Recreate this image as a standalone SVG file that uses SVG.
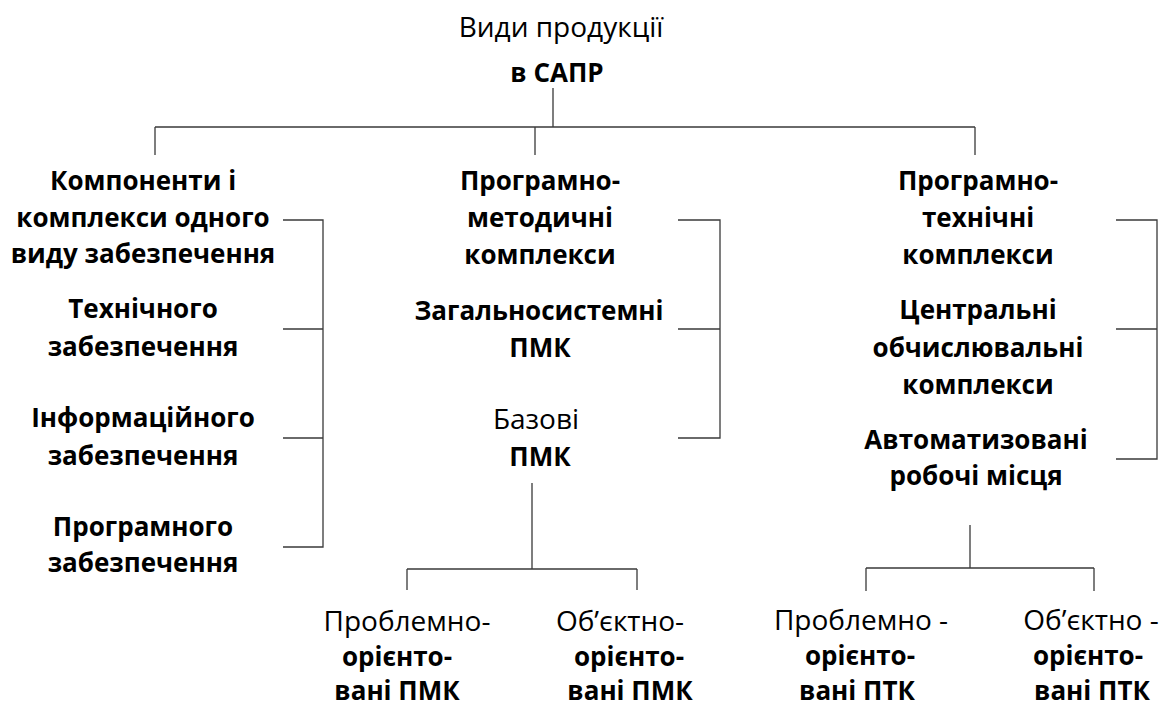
<svg xmlns="http://www.w3.org/2000/svg" width="1164" height="706" viewBox="0 0 1164 706">
  <style>
    text { font-family: "Open Sans", "Noto Sans", "Liberation Sans", sans-serif; fill: #000; text-anchor: middle; }
    .b { font-weight: 700; font-size: 26px; }
    .r { font-weight: 400; font-size: 28px; }
    .ln { fill: none; stroke: #3a3a3a; stroke-width: 1.3; }
  </style>
  <rect width="1164" height="706" fill="#fff"/>

  <g id="connectors" class="ln">
    <path d="M553,88 V127 M155,127 H975 M155,127 V155 M535,127 V155 M975,127 V155"/>
    <path d="M283,220 H323 V547 H283 M283,329 H323 M283,438 H323"/>
    <path d="M678,220 H720 V438 H678 M678,329 H720"/>
    <path d="M1116,220 H1157 V459 H1116 M1116,329 H1157"/>
    <path d="M532,483 V569 M407,569 H637 M407,569 V590 M637,569 V590"/>
    <path d="M970,525 V568 M866,568 H1094 M866,568 V591 M1094,568 V591"/>
  </g>

  <g id="root">
    <text class="r" x="561" y="37">Види продукції</text>
    <text class="b" x="557" y="82">в САПР</text>
  </g>

  <g id="single-kind">
    <text class="b" x="143" y="190">Компоненти і</text>
    <text class="b" x="143" y="227">комплекси одного</text>
    <text class="b" x="143" y="263">виду забезпечення</text>
  </g>
  <g id="technical">
    <text class="b" x="143" y="318">Технічного</text>
    <text class="b" x="143" y="356">забезпечення</text>
  </g>
  <g id="information">
    <text class="b" x="143" y="427">Інформаційного</text>
    <text class="b" x="143" y="465">забезпечення</text>
  </g>
  <g id="software">
    <text class="b" x="143" y="536">Програмного</text>
    <text class="b" x="143" y="572">забезпечення</text>
  </g>

  <g id="pmk">
    <text class="b" x="540" y="190">Програмно-</text>
    <text class="b" x="540" y="227">методичні</text>
    <text class="b" x="540" y="264">комплекси</text>
  </g>
  <g id="pmk-general">
    <text class="b" x="539" y="320">Загальносистемні</text>
    <text class="b" x="540" y="357">ПМК</text>
  </g>
  <g id="pmk-base">
    <text class="r" x="536" y="429">Базові</text>
    <text class="b" x="540" y="466">ПМК</text>
  </g>

  <g id="ptk">
    <text class="b" x="978" y="190">Програмно-</text>
    <text class="b" x="978" y="227">технічні</text>
    <text class="b" x="978" y="264">комплекси</text>
  </g>
  <g id="ptk-central">
    <text class="b" x="978" y="319">Центральні</text>
    <text class="b" x="978" y="357">обчислювальні</text>
    <text class="b" x="978" y="394">комплекси</text>
  </g>
  <g id="ptk-workplace">
    <text class="b" x="976" y="449">Автоматизовані</text>
    <text class="b" x="976" y="485">робочі місця</text>
  </g>

  <g id="pmk-problem">
    <text class="r" x="407" y="631">Проблемно-</text>
    <text class="b" x="397" y="666">орієнто-</text>
    <text class="b" x="397" y="700">вані ПМК</text>
  </g>
  <g id="pmk-object">
    <text class="r" x="620" y="631">Об’єктно-</text>
    <text class="b" x="629" y="666">орієнто-</text>
    <text class="b" x="630" y="700">вані ПМК</text>
  </g>
  <g id="ptk-problem">
    <text class="r" x="861" y="630">Проблемно -</text>
    <text class="b" x="860" y="665">орієнто-</text>
    <text class="b" x="857" y="700">вані ПТК</text>
  </g>
  <g id="ptk-object">
    <text class="r" x="1091" y="630">Об’єктно -</text>
    <text class="b" x="1088" y="665">орієнто-</text>
    <text class="b" x="1092" y="700">вані ПТК</text>
  </g>
</svg>
